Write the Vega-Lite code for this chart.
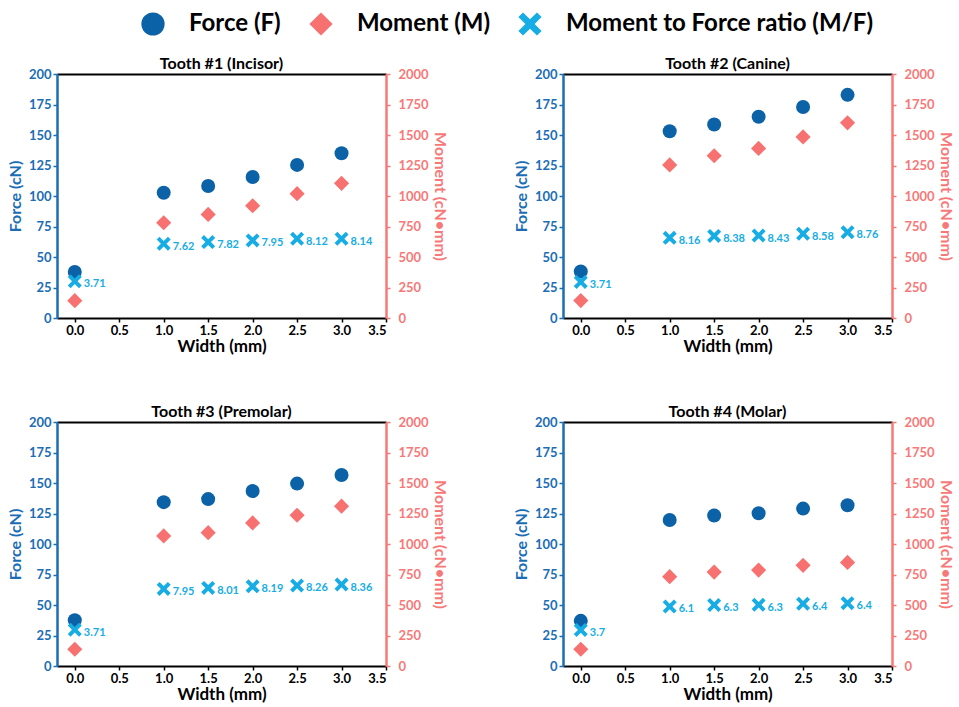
{
  "$schema": "https://vega.github.io/schema/vega-lite/v6.json",
  "padding": {"left": 7, "top": 12, "right": 0, "bottom": 2},
  "config": {
    "font": "Lato",
    "view": {"stroke": null},
    "axis": {"grid": false, "labelFontWeight": "bold", "titleFontWeight": "bold", "labelFontSize": 13, "titleFontSize": 16, "domainWidth": 2.5, "tickWidth": 1.5, "tickSize": 4}
  },
  "data": {"values": [
    {"tooth": "Tooth #1 (Incisor)", "width": 0, "force": 37.8, "moment": 142, "rpos": 30.1, "label": "3.71"},
    {"tooth": "Tooth #1 (Incisor)", "width": 1, "force": 102.7, "moment": 781, "rpos": 60.8, "label": "7.62"},
    {"tooth": "Tooth #1 (Incisor)", "width": 1.5, "force": 108.2, "moment": 849, "rpos": 62.2, "label": "7.82"},
    {"tooth": "Tooth #1 (Incisor)", "width": 2, "force": 115.6, "moment": 920, "rpos": 63.6, "label": "7.95"},
    {"tooth": "Tooth #1 (Incisor)", "width": 2.5, "force": 125.5, "moment": 1019, "rpos": 64.9, "label": "8.12"},
    {"tooth": "Tooth #1 (Incisor)", "width": 3, "force": 135.0, "moment": 1104, "rpos": 65.0, "label": "8.14"},
    {"tooth": "Tooth #2 (Canine)", "width": 0, "force": 38.1, "moment": 143, "rpos": 29.6, "label": "3.71"},
    {"tooth": "Tooth #2 (Canine)", "width": 1, "force": 153.1, "moment": 1255, "rpos": 65.7, "label": "8.16"},
    {"tooth": "Tooth #2 (Canine)", "width": 1.5, "force": 158.6, "moment": 1330, "rpos": 67.3, "label": "8.38"},
    {"tooth": "Tooth #2 (Canine)", "width": 2, "force": 165.0, "moment": 1390, "rpos": 67.6, "label": "8.43"},
    {"tooth": "Tooth #2 (Canine)", "width": 2.5, "force": 173.0, "moment": 1484, "rpos": 69.0, "label": "8.58"},
    {"tooth": "Tooth #2 (Canine)", "width": 3, "force": 182.9, "moment": 1600, "rpos": 70.3, "label": "8.76"},
    {"tooth": "Tooth #3 (Premolar)", "width": 0, "force": 37.6, "moment": 137, "rpos": 29.7, "label": "3.71"},
    {"tooth": "Tooth #3 (Premolar)", "width": 1, "force": 134.3, "moment": 1066, "rpos": 63.2, "label": "7.95"},
    {"tooth": "Tooth #3 (Premolar)", "width": 1.5, "force": 136.8, "moment": 1093, "rpos": 64.0, "label": "8.01"},
    {"tooth": "Tooth #3 (Premolar)", "width": 2, "force": 143.4, "moment": 1173, "rpos": 65.3, "label": "8.19"},
    {"tooth": "Tooth #3 (Premolar)", "width": 2.5, "force": 149.5, "moment": 1236, "rpos": 66.0, "label": "8.26"},
    {"tooth": "Tooth #3 (Premolar)", "width": 3, "force": 156.6, "moment": 1310, "rpos": 66.8, "label": "8.36"},
    {"tooth": "Tooth #4 (Molar)", "width": 0, "force": 37.0, "moment": 137, "rpos": 29.6, "label": "3.7"},
    {"tooth": "Tooth #4 (Molar)", "width": 1, "force": 119.7, "moment": 732, "rpos": 48.8, "label": "6.1"},
    {"tooth": "Tooth #4 (Molar)", "width": 1.5, "force": 123.3, "moment": 770, "rpos": 50.0, "label": "6.3"},
    {"tooth": "Tooth #4 (Molar)", "width": 2, "force": 125.2, "moment": 786, "rpos": 50.2, "label": "6.3"},
    {"tooth": "Tooth #4 (Molar)", "width": 2.5, "force": 129.0, "moment": 825, "rpos": 51.0, "label": "6.4"},
    {"tooth": "Tooth #4 (Molar)", "width": 3, "force": 131.8, "moment": 849, "rpos": 51.5, "label": "6.4"}
  ]},
  "facet": {"field": "tooth", "type": "nominal", "header": {"title": null, "labelFontSize": 16, "labelFontWeight": "bold", "labelColor": "black", "labelPadding": -4}},
  "columns": 2,
  "spacing": {"column": 65, "row": 50},
  "resolve": {"scale": {"x": "independent", "y": "independent"}},
  "spec": {
    "width": 329,
    "height": 244,
    "layer": [
      {
        "mark": {"type": "point", "filled": true, "size": 196, "opacity": 1},
        "encoding": {
          "x": {"field": "width", "type": "quantitative", "title": "Width (mm)",
            "scale": {"domain": [-0.2, 3.5], "nice": false, "zero": false},
            "axis": {"orient": "bottom", "values": [0, 0.5, 1, 1.5, 2, 2.5, 3, 3.5], "format": ".1f", "titleFontSize": 17,
              "domainColor": "black", "domainWidth": 2, "tickColor": "black", "labelColor": "black", "titleColor": "black", "titlePadding": 1, "labelPadding": 2}},
          "y": {"field": "force", "type": "quantitative", "title": "Force (cN)",
            "scale": {"domain": [0, 200], "nice": false},
            "axis": {"orient": "left", "values": [0, 25, 50, 75, 100, 125, 150, 175, 200], "labelPadding": 2,
              "domainColor": "#1b6db5", "tickColor": "#1b6db5", "labelColor": "#1b6db5", "titleColor": "#1b6db5", "titlePadding": 5}},
          "color": {"datum": "Force (F)", "type": "nominal",
            "scale": {"domain": ["Force (F)", "Moment (M)", "Moment to Force ratio (M/F)"], "range": ["#0b62a6", "#f87171", "#17ade4"]},
            "legend": {"orient": "none", "legendX": 84, "legendY": -62, "direction": "horizontal", "title": null, "symbolSize": 540, "labelFontSize": 24, "labelFontWeight": "bold", "labelColor": "black", "labelOffset": 24, "columnPadding": 28, "symbolStrokeWidth": 0, "symbolOpacity": 1, "labelLimit": 400}},
          "shape": {"datum": "Force (F)", "type": "nominal",
            "scale": {"domain": ["Force (F)", "Moment (M)", "Moment to Force ratio (M/F)"], "range": ["circle", "diamond", "M-1,-0.6L-0.6,-1L0,-0.4L0.6,-1L1,-0.6L0.4,0L1,0.6L0.6,1L0,0.4L-0.6,1L-1,0.6L-0.4,0Z"]}}
        }
      },
      {
        "mark": {"type": "point", "filled": true, "size": 230, "opacity": 1},
        "encoding": {
          "x": {"field": "width", "type": "quantitative", "scale": {"domain": [-0.2, 3.5], "nice": false, "zero": false},
            "axis": {"orient": "top", "title": null, "labels": false, "ticks": false, "domainColor": "black", "domainWidth": 2}},
          "y": {"field": "moment", "type": "quantitative", "title": "Moment (cN•mm)",
            "scale": {"domain": [0, 2000], "nice": false},
            "axis": {"orient": "right", "values": [0, 250, 500, 750, 1000, 1250, 1500, 1750, 2000], "format": "d", "labelPadding": 8,
              "domainColor": "#f87878", "tickColor": "#f87878", "labelColor": "#f87878", "titleColor": "#f87878", "titlePadding": 3}},
          "color": {"datum": "Moment (M)", "type": "nominal"},
          "shape": {"datum": "Moment (M)", "type": "nominal"}
        }
      },
      {
        "mark": {"type": "point", "filled": true, "size": 196, "opacity": 1},
        "encoding": {
          "x": {"field": "width", "type": "quantitative", "scale": {"domain": [-0.2, 3.5], "nice": false, "zero": false}, "axis": null},
          "y": {"field": "rpos", "type": "quantitative", "scale": {"domain": [0, 200], "nice": false}, "axis": null},
          "color": {"datum": "Moment to Force ratio (M/F)", "type": "nominal"},
          "shape": {"datum": "Moment to Force ratio (M/F)", "type": "nominal"}
        }
      },
      {
        "mark": {"type": "text", "align": "left", "baseline": "middle", "dx": 9, "dy": 3, "fontWeight": "bold", "fontSize": 11, "color": "#17ade4"},
        "encoding": {
          "x": {"field": "width", "type": "quantitative", "scale": {"domain": [-0.2, 3.5], "nice": false, "zero": false}, "axis": null},
          "y": {"field": "rpos", "type": "quantitative", "scale": {"domain": [0, 200], "nice": false}, "axis": null},
          "text": {"field": "label", "type": "nominal"}
        }
      }
    ],
    "resolve": {"scale": {"y": "independent"}, "axis": {"x": "independent"}}
  }
}
